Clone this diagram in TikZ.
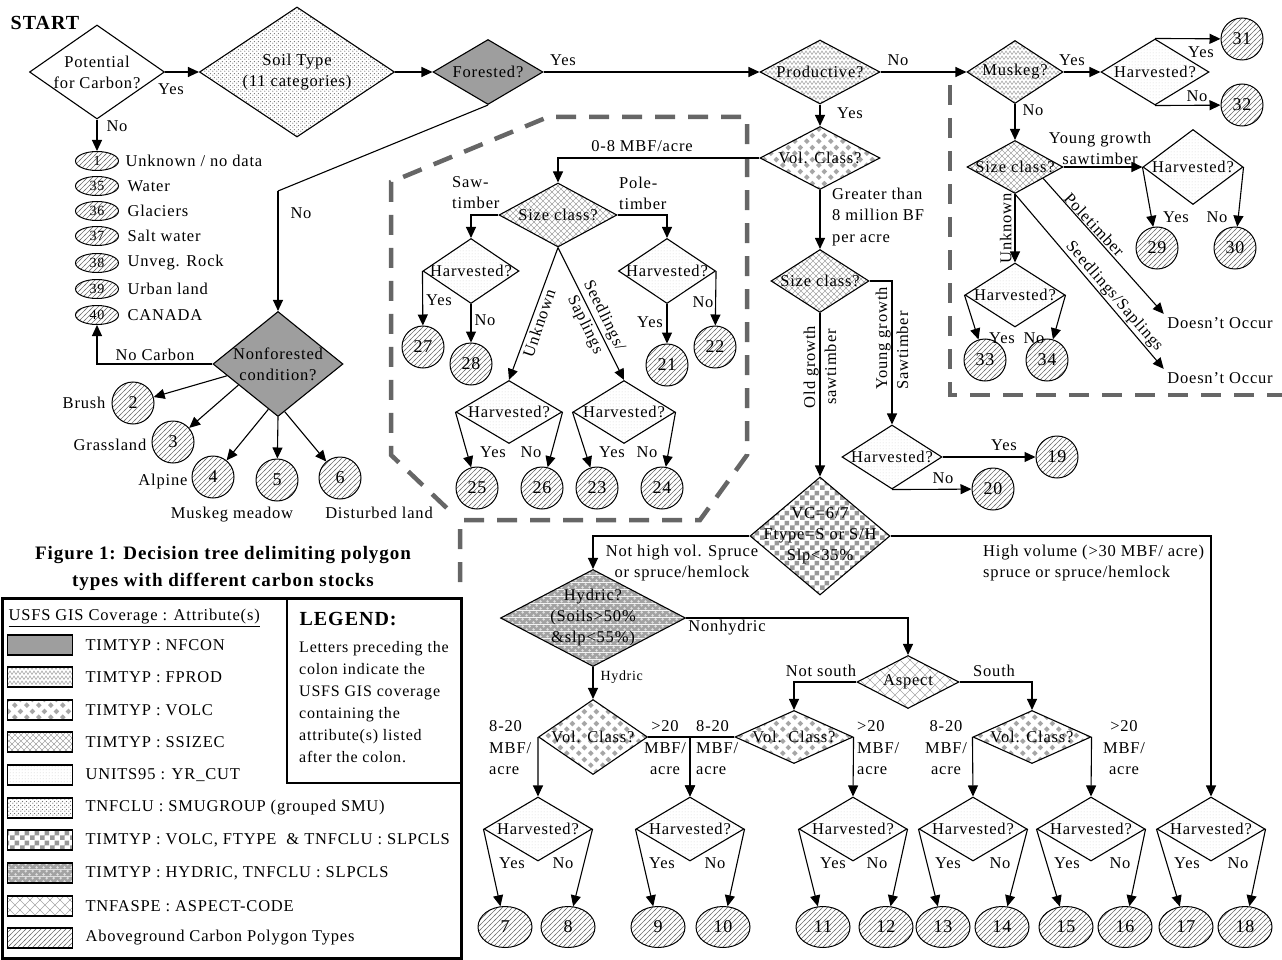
\documentclass[tikz,border=0pt]{standalone}
\usepackage{fontspec}
\setmainfont{Liberation Serif}[LetterSpace=5]
\usetikzlibrary{shapes.geometric,arrows.meta,patterns}

\colorlet{hyddark}{black!36}
\colorlet{hydlight}{black!12}

% fill patterns of the coverages
\pgfdeclarepatternformonly{zigzag}{\pgfqpoint{-1pt}{-1pt}}{\pgfqpoint{9pt}{6pt}}{\pgfqpoint{8pt}{5pt}}{%
  \pgfsetlinewidth{0.5pt}%
  \pgfpathmoveto{\pgfqpoint{0pt}{0.5pt}}%
  \pgfpathlineto{\pgfqpoint{2pt}{4pt}}%
  \pgfpathlineto{\pgfqpoint{4pt}{0.5pt}}%
  \pgfpathlineto{\pgfqpoint{6pt}{4pt}}%
  \pgfpathlineto{\pgfqpoint{8pt}{0.5pt}}%
  \pgfusepath{stroke}}
\pgfdeclarepatternformonly{volcdots}{\pgfpointorigin}{\pgfqpoint{12pt}{12pt}}{\pgfqpoint{12pt}{12pt}}{%
  \pgfpathmoveto{\pgfqpoint{3pt}{0pt}}\pgfpathlineto{\pgfqpoint{6pt}{3pt}}%
  \pgfpathlineto{\pgfqpoint{3pt}{6pt}}\pgfpathlineto{\pgfqpoint{0pt}{3pt}}\pgfpathclose
  \pgfpathmoveto{\pgfqpoint{9pt}{6pt}}\pgfpathlineto{\pgfqpoint{12pt}{9pt}}%
  \pgfpathlineto{\pgfqpoint{9pt}{12pt}}\pgfpathlineto{\pgfqpoint{6pt}{9pt}}\pgfpathclose
  \pgfusepath{fill}}
\pgfdeclarepatternformonly{xhatch}{\pgfqpoint{-1pt}{-1pt}}{\pgfqpoint{7pt}{7pt}}{\pgfqpoint{6pt}{6pt}}{%
  \pgfsetlinewidth{0.4pt}%
  \pgfpathmoveto{\pgfqpoint{-0.5pt}{-0.5pt}}\pgfpathlineto{\pgfqpoint{6.5pt}{6.5pt}}%
  \pgfpathmoveto{\pgfqpoint{-0.5pt}{6.5pt}}\pgfpathlineto{\pgfqpoint{6.5pt}{-0.5pt}}%
  \pgfusepath{stroke}}
\pgfdeclarepatternformonly{lattice}{\pgfqpoint{-1pt}{-1pt}}{\pgfqpoint{11pt}{11pt}}{\pgfqpoint{10pt}{10pt}}{%
  \pgfsetlinewidth{0.4pt}%
  \pgfpathmoveto{\pgfqpoint{-0.5pt}{-0.5pt}}\pgfpathlineto{\pgfqpoint{10.5pt}{10.5pt}}%
  \pgfpathmoveto{\pgfqpoint{-0.5pt}{10.5pt}}\pgfpathlineto{\pgfqpoint{10.5pt}{-0.5pt}}%
  \pgfusepath{stroke}}
\pgfdeclarepatternformonly{finedots}{\pgfpointorigin}{\pgfqpoint{3pt}{3pt}}{\pgfqpoint{3pt}{3pt}}{%
  \pgfpathcircle{\pgfqpoint{1.5pt}{1.5pt}}{0.45pt}%
  \pgfusepath{fill}}
\pgfdeclarepatternformonly{smudots}{\pgfpointorigin}{\pgfqpoint{4pt}{4pt}}{\pgfqpoint{4pt}{4pt}}{%
  \pgfpathcircle{\pgfqpoint{1pt}{1pt}}{0.75pt}%
  \pgfpathcircle{\pgfqpoint{3pt}{3pt}}{0.75pt}%
  \pgfusepath{fill}}
\pgfdeclarepatternformonly{checker}{\pgfpointorigin}{\pgfqpoint{10pt}{10pt}}{\pgfqpoint{10pt}{10pt}}{%
  \pgfpathrectangle{\pgfpointorigin}{\pgfqpoint{5pt}{5pt}}%
  \pgfpathrectangle{\pgfqpoint{5pt}{5pt}}{\pgfqpoint{5pt}{5pt}}%
  \pgfusepath{fill}}
\pgfdeclarepatterninherentlycolored{hydricdots}{\pgfpointorigin}{\pgfqpoint{7pt}{7pt}}{\pgfqpoint{7pt}{7pt}}{%
  \pgfsetfillcolor{hyddark}%
  \pgfpathrectangle{\pgfpointorigin}{\pgfqpoint{7pt}{7pt}}\pgfusepath{fill}%
  \pgfsetfillcolor{hydlight}%
  \pgfpathcircle{\pgfqpoint{1.75pt}{1.75pt}}{1.5pt}%
  \pgfpathcircle{\pgfqpoint{5.25pt}{5.25pt}}{1.5pt}%
  \pgfusepath{fill}}
\pgfdeclarepatternformonly{hatch}{\pgfqpoint{-1pt}{-1pt}}{\pgfqpoint{6pt}{6pt}}{\pgfqpoint{5pt}{5pt}}{%
  \pgfsetlinewidth{0.55pt}%
  \pgfpathmoveto{\pgfqpoint{-1pt}{-1pt}}\pgfpathlineto{\pgfqpoint{6pt}{6pt}}%
  \pgfusepath{stroke}}

\tikzset{
  dmd/.style={diamond, draw, line width=1.1pt, inner sep=0pt},
  dsz/.style 2 args={minimum width=#1, minimum height=#2},
  dtx/.style={label={[align=center, inner sep=0pt]center:#1}},
  nfcon/.style={fill=black!38},
  fprod/.style={pattern=zigzag, pattern color=black!40},
  volc/.style={pattern=volcdots, pattern color=black!35},
  ssizec/.style={pattern=xhatch, pattern color=black!35},
  yrcut/.style={pattern=finedots, pattern color=black!40},
  smu/.style={pattern=smudots, pattern color=black!55},
  ftype/.style={pattern=checker, pattern color=black!40},
  hydric/.style={pattern=hydricdots},
  aspect/.style={pattern=lattice, pattern color=black!35},
  cpoly/.style={pattern=hatch, pattern color=black!55},
  cnum/.style={circle, draw, line width=1pt, minimum size=42pt, inner sep=0pt, cpoly, font=\fontsize{18}{18}\selectfont},
  oval/.style={ellipse, draw, line width=1pt, minimum width=54pt, minimum height=41pt, inner sep=0pt, cpoly, font=\fontsize{18}{18}\selectfont},
  ovals/.style={ellipse, draw, line width=1pt, minimum width=43pt, minimum height=19pt, inner sep=0pt, cpoly, font=\fontsize{14}{14}\selectfont},
  arr/.style={line width=1.1pt, -{Triangle[length=11pt,width=10pt]}},
  ln/.style={line width=1.1pt},
  zone/.style={draw=black!60, line width=4.5pt, dash pattern=on 20pt off 13pt},
  three/.style={align=left, font=\fontsize{16.5}{21.5}\selectfont, inner sep=0pt},
  swatch/.style={draw, line width=1.5pt, minimum width=65pt, minimum height=20pt, inner sep=0pt},
}

\begin{document}
\begin{tikzpicture}[x=1pt,y=1pt,yscale=-1,xscale=1,font=\fontsize{16.5}{21}\selectfont]
\useasboundingbox (0,0) rectangle (1282,960);

%Dashed regions
\draw[zone] (460,582) -- (460,520) -- (700,520) -- (747,455) -- (747,117) -- (548,117) -- (391,182) -- (391,455) -- (452,513);
\draw[zone] (950,85) -- (950,395) -- (1282,395);

% Text Node
\node[font=\fontsize{20}{20}\selectfont\bfseries] (start) at (45,23) {START};

%Shape: Diamond (top row)
\node[dmd, dsz={135}{94}, dtx={Potential\\for Carbon?}] (pot) at (97,72) {};
\node[dmd, smu, dsz={195}{130}, dtx={Soil Type\\(11 categories)}] (soil) at (297,72) {};
\node[dmd, nfcon, dsz={110}{65}, dtx={Forested?}] (forest) at (488,72) {};
\node[dmd, fprod, dsz={120}{64}, dtx={Productive?}] (prod) at (820,72) {};
\node[dmd, fprod, dsz={96}{63}, dtx={Muskeg?}] (musk) at (1015,72) {};
\node[dmd, yrcut, dsz={108}{66}, dtx={Harvested?}] (hmusk) at (1155,72) {};
\node[cnum] (c31) at (1242,39) {31};
\node[cnum] (c32) at (1242,105) {32};

%Straight Lines
\draw[arr] (pot.east) -- (soil.west);
\draw[arr] (soil.east) -- (forest.west);
\draw[arr] (forest.east) -- (prod.west);
\draw[arr] (prod.east) -- (musk.west);
\draw[arr] (musk.east) -- (hmusk.west);
\draw[arr] (hmusk.north) -- (c31);
\draw[arr] (hmusk.south) -- (c32);

% Text Node
\node (ypot) at (171,89) {Yes};
\node (npot) at (117,126) {No};
\node (yfor) at (563,60) {Yes};
\node (nprod) at (898,60) {No};
\node (yprod) at (850,113) {Yes};
\node (ymusk) at (1072,60) {Yes};
\node (y31) at (1201,52) {Yes};
\node (n32) at (1197,96) {No};
\node (nmusk) at (1033,110) {No};

%Shape: Ellipse (no carbon list)
\node[ovals] (e1) at (97,161) {1};
\node[ovals] (e35) at (97,186) {35};
\node[ovals] (e36) at (97,211) {36};
\node[ovals] (e37) at (97,236) {37};
\node[ovals] (e38) at (97,263) {38};
\node[ovals] (e39) at (97,289) {39};
\node[ovals] (e40) at (97,315) {40};
\draw[arr] (pot.south) -- (e1);
\node[anchor=west] (le1) at (122,161) {Unknown / no data};
\node[anchor=west] (le35) at (124,186) {Water};
\node[anchor=west] (le36) at (124,211) {Glaciers};
\node[anchor=west] (le37) at (124,236) {Salt water};
\node[anchor=west] (le38) at (124,263) {Unveg. Rock};
\node[anchor=west] (le39) at (124,289) {Urban land};
\node[anchor=west] (le40) at (124,315) {CANADA};

%Shape: Diamond (nonforested)
\coordinate (nfbend) at (278,191);
\node[dmd, nfcon, dsz={130}{105}, dtx={Nonforested\\condition?}] (nonf) at (278,364) {};
\draw[ln] (forest.south) -- (nfbend);
\draw[arr] (nfbend) -- (nonf.north);
\node (nfor) at (301,213) {No};
\draw[arr] (nonf.west) -| (e40.south);
\node (nocarb) at (155,355) {No Carbon};
\node[cnum] (c2) at (133,403) {2};
\node[cnum] (c3) at (173,442) {3};
\node[cnum] (c4) at (213,477) {4};
\node[cnum] (c5) at (277,480) {5};
\node[cnum] (c6) at (340,478) {6};
\draw[arr] (nonf.193) -- (c2);
\draw[arr] (nonf.208) -- (c3);
\draw[arr] (nonf.258) -- (c4);
\draw[arr] (nonf.south) -- (c5);
\draw[arr] (nonf.278) -- (c6);
\node[anchor=east] (lbrush) at (109,403) {Brush};
\node (lgrass) at (110,445) {Grassland};
\node (lalp) at (163,482) {Alpine};
\node (lmm) at (232,515) {Muskeg meadow};
\node (ldist) at (379,513) {Disturbed land};

%Shape: Diamond (productive column)
\node[dmd, volc, dsz={120}{63}, dtx={Vol. Class?}] (vol1) at (820,158) {};
\node[dmd, ssizec, dsz={98}{63}, dtx={Size class?}] (size2) at (820,281) {};
\draw[arr] (prod.south) -- (vol1.north);
\draw[arr] (vol1.south) -- (size2.north);
\node[three, anchor=west] (lgt8) at (832,217) {Greater than\\8 million BF\\per acre};

%Shape: Diamond (0-8 MBF branch)
\node[dmd, ssizec, dsz={118}{64}, dtx={Size class?}] (size1) at (558,215) {};
\draw[arr] (vol1.west) -| (size1.north);
\node (l08) at (642,146) {0-8 MBF/acre};
\node[dmd, yrcut, dsz={96}{65}, dtx={Harvested?}] (hsaw) at (471,271) {};
\node[dmd, yrcut, dsz={97}{65}, dtx={Harvested?}] (hpole) at (667,271) {};
\draw[arr] (size1.west) -| (hsaw.north);
\draw[arr] (size1.east) -| (hpole.north);
\node[align=left, anchor=west, inner sep=0pt] (lsaw) at (452,193) {Saw-\\timber};
\node[align=left, anchor=west, inner sep=0pt] (lpole) at (619,193) {Pole-\\timber};
\node[cnum] (c27) at (423,347) {27};
\node[cnum] (c28) at (471,364) {28};
\node[cnum] (c21) at (667,365) {21};
\node[cnum] (c22) at (715,347) {22};
\draw[arr] (hsaw.west) -- (c27);
\draw[arr] (hsaw.south) -- (c28);
\draw[arr] (hpole.south) -- (c21);
\draw[arr] (hpole.east) -- (c22);
\node (y27) at (439,300) {Yes};
\node (n28) at (485,320) {No};
\node (y21) at (650,322) {Yes};
\node (n22) at (703,302) {No};

\node[dmd, yrcut, dsz={106}{63}, dtx={Harvested?}] (hunk) at (509,412) {};
\node[dmd, yrcut, dsz={102}{63}, dtx={Harvested?}] (hseed) at (624,412) {};
\draw[arr] (size1.south) -- (hunk.north) node[pos=0.55, rotate=71, anchor=north, inner sep=2pt] (lunk) {Unknown};
\draw[arr] (size1.south) -- (hseed.north) node[pos=0.55, rotate=-64, align=center, inner sep=0pt] (lseed) {Seedlings/\\Saplings};
\node[cnum] (c25) at (477,488) {25};
\node[cnum] (c26) at (542,488) {26};
\node[cnum] (c23) at (597,488) {23};
\node[cnum] (c24) at (662,488) {24};
\draw[arr] (hunk.west) -- (c25);
\draw[arr] (hunk.east) -- (c26);
\draw[arr] (hseed.west) -- (c23);
\draw[arr] (hseed.east) -- (c24);
\node (y25) at (493,452) {Yes};
\node (n26) at (531,452) {No};
\node (y23) at (612,452) {Yes};
\node (n24) at (647,452) {No};

%Shape: Diamond (muskeg branch)
\node[dmd, ssizec, dsz={96}{53}, dtx={Size class?}] (msize) at (1015,167) {};
\node[dmd, yrcut, dsz={100}{75}, dtx={Harvested?}] (mhyg) at (1193,167) {};
\node[dmd, yrcut, dsz={100}{64}, dtx={Harvested?}] (munk) at (1015,295) {};
\draw[arr] (musk.south) -- (msize.north);
\draw[arr] (msize.east) -- (mhyg.west);
\node[align=center] (lmyg) at (1100,148) {Young growth\\sawtimber};
\node[cnum] (c29) at (1157,248) {29};
\node[cnum] (c30) at (1235,248) {30};
\draw[arr] (mhyg.west) -- (c29);
\draw[arr] (mhyg.east) -- (c30);
\node (y29) at (1176,217) {Yes};
\node (n30) at (1217,217) {No};
\draw[arr] (msize.south) -- (munk.north) node[midway, rotate=90, anchor=south, inner sep=3pt] (lmunk) {Unknown};
\node[cnum] (c33) at (985,360) {33};
\node[cnum] (c34) at (1047,360) {34};
\draw[arr] (munk.west) -- (c33);
\draw[arr] (munk.east) -- (c34);
\node (y33) at (1002,338) {Yes};
\node (n34) at (1034,338) {No};
\node (doc1) at (1220,323) {Doesn't Occur};
\node (doc2) at (1220,378) {Doesn't Occur};
\draw[arr] (msize.-22) -- (doc1.north west) node[pos=0.38, rotate=-47, anchor=south, inner sep=1pt] (lmpole) {Poletimber};
\draw[arr] (msize.south) -- (doc2.north west) node[pos=0.62, rotate=-49, anchor=south, inner sep=1pt] (lmseed) {Seedlings/Saplings};

%Shape: Diamond (sawtimber branch)
\node[dmd, yrcut, dsz={100}{64}, dtx={Harvested?}] (hyg) at (892,457) {};
\draw[arr] (size2.east) -| (hyg.north) node[pos=0.7, rotate=90, align=left, inner sep=0pt] (lyg) {Young growth\\Sawtimber};
\node[cnum] (c19) at (1057,457) {19};
\node[cnum] (c20) at (993,489) {20};
\draw[arr] (hyg.east) -- (c19);
\draw[arr] (hyg.south) -- (c20);
\node (y19) at (1004,445) {Yes};
\node (n20) at (943,478) {No};

\node[dmd, ftype, dsz={140}{118}, dtx={VC=6/7\\Ftype=S or S/H\\Slp<35\%}] (vc) at (820,536) {};
\draw[arr] (size2.south) -- (vc.north) node[pos=0.33, rotate=90, align=center, inner sep=0pt] (lold) {Old growth\\sawtimber};

%Shape: Diamond (lower tree)
\node[dmd, hydric, dsz={185}{97}, dtx={Hydric?\\(Soils>50\%\\\&slp<55\%)}] (hyd) at (593,618) {};
\draw[arr] (vc.west) -| (hyd.north);
\node[align=center, inner sep=0pt] (lnhv) at (682,563) {Not high vol. Spruce\\or spruce/hemlock};
\node[dmd, aspect, dsz={102}{53}, dtx={Aspect}] (asp) at (908,682) {};
\draw[arr] (hyd.east) -| (asp.north);
\node (lnonh) at (727,628) {Nonhydric};
\node[dmd, volc, dsz={109}{75}, dtx={Vol. Class?}] (volh) at (593,737) {};
\draw[arr] (hyd.south) -- (volh.north);
\node[font=\fontsize{14}{14}\selectfont, anchor=west] (lhyd) at (597,677) {Hydric};
\node[dmd, volc, dsz={118}{53}, dtx={Vol. Class?}] (voln) at (794,737) {};
\node[dmd, volc, dsz={118}{53}, dtx={Vol. Class?}] (vols) at (1032,737) {};
\draw[arr] (asp.west) -| (voln.north);
\draw[arr] (asp.east) -| (vols.north);
\node (lns) at (821,671) {Not south};
\node (ls) at (994,671) {South};

\node[dmd, yrcut, dsz={108}{64}, dtx={Harvested?}] (h1) at (538,829) {};
\node[dmd, yrcut, dsz={108}{64}, dtx={Harvested?}] (h2) at (690,829) {};
\node[dmd, yrcut, dsz={108}{64}, dtx={Harvested?}] (h3) at (853,829) {};
\node[dmd, yrcut, dsz={108}{64}, dtx={Harvested?}] (h4) at (973,829) {};
\node[dmd, yrcut, dsz={108}{64}, dtx={Harvested?}] (h5) at (1091,829) {};
\node[dmd, yrcut, dsz={108}{64}, dtx={Harvested?}] (h6) at (1211,829) {};
\draw[arr] (volh.west) -- (h1.north);
\draw[arr] (volh.east) -| (h2.north);
\draw[arr] (voln.west) -| (h2.north);
\draw[arr] (voln.east) -- (h3.north);
\draw[arr] (vols.west) -- (h4.north);
\draw[arr] (vols.east) -- (h5.north);
\draw[arr] (vc.east) -| (h6.north);
\node[align=left, anchor=west, inner sep=0pt] (lhv) at (983,563) {High volume (>30 MBF/ acre)\\spruce or spruce/hemlock};

% Text Node (volume classes)
\node[three, anchor=west] (m1) at (489,748) {8-20\\MBF/\\acre};
\node[three, align=center] (m2) at (665,748) {>20\\MBF/\\acre};
\node[three, anchor=west] (m3) at (696,748) {8-20\\MBF/\\acre};
\node[three, anchor=west] (m4) at (857,748) {>20\\MBF/\\acre};
\node[three, align=center] (m5) at (946,748) {8-20\\MBF/\\acre};
\node[three, align=center] (m6) at (1124,748) {>20\\MBF/\\acre};

%Shape: Ellipse (bottom polygon types)
\node[oval] (e7) at (505,927) {7};
\node[oval] (e8) at (568,927) {8};
\node[oval] (e9) at (658,927) {9};
\node[oval] (e10) at (723,927) {10};
\node[oval] (e11) at (823,927) {11};
\node[oval] (e12) at (886,927) {12};
\node[oval] (e13) at (943,927) {13};
\node[oval] (e14) at (1002,927) {14};
\node[oval] (e15) at (1066,927) {15};
\node[oval] (e16) at (1125,927) {16};
\node[oval] (e17) at (1186,927) {17};
\node[oval] (e18) at (1245,927) {18};
\draw[arr] (h1.west) -- (e7);
\draw[arr] (h1.east) -- (e8);
\draw[arr] (h2.west) -- (e9);
\draw[arr] (h2.east) -- (e10);
\draw[arr] (h3.west) -- (e11);
\draw[arr] (h3.east) -- (e12);
\draw[arr] (h4.west) -- (e13);
\draw[arr] (h4.east) -- (e14);
\draw[arr] (h5.west) -- (e15);
\draw[arr] (h5.east) -- (e16);
\draw[arr] (h6.west) -- (e17);
\draw[arr] (h6.east) -- (e18);
\node (y7) at (512,863) {Yes};
\node (n8) at (563,863) {No};
\node (y9) at (662,863) {Yes};
\node (n10) at (715,863) {No};
\node (y11) at (833,863) {Yes};
\node (n12) at (877,863) {No};
\node (y13) at (948,863) {Yes};
\node (n14) at (1000,863) {No};
\node (y15) at (1067,863) {Yes};
\node (n16) at (1120,863) {No};
\node (y17) at (1187,863) {Yes};
\node (n18) at (1238,863) {No};

% Text Node (caption)
\node[align=center, font=\fontsize{19}{27}\selectfont\bfseries] (title) at (223,568) {Figure 1: Decision tree delimiting polygon\\types with different carbon stocks};

%Shape: Rectangle (legend)
\draw[line width=3pt] (2,598) rectangle (461,958);
\draw[line width=2pt] (287,598) -- (287,783) -- (461,783);
\node[anchor=west] (lghead) at (5,618) {\underline{USFS GIS Coverage : Attribute(s)}};
\node[swatch, nfcon] (s1) at (40,645) {};
\node[swatch, fprod] (s2) at (40,677) {};
\node[swatch, volc] (s3) at (40,710) {};
\node[swatch, ssizec] (s4) at (40,742) {};
\node[swatch, yrcut] (s5) at (40,775) {};
\node[swatch, smu] (s6) at (40,808) {};
\node[swatch, ftype] (s7) at (40,840) {};
\node[swatch, hydric] (s8) at (40,873) {};
\node[swatch, aspect] (s9) at (40,906) {};
\node[swatch, cpoly] (s10) at (40,938) {};
\node[anchor=west] (ls1) at (82,645) {TIMTYP : NFCON};
\node[anchor=west] (ls2) at (82,677) {TIMTYP : FPROD};
\node[anchor=west] (ls3) at (82,710) {TIMTYP : VOLC};
\node[anchor=west] (ls4) at (82,742) {TIMTYP : SSIZEC};
\node[anchor=west] (ls5) at (82,775) {UNITS95 : YR\_CUT};
\node[anchor=west] (ls6) at (82,808) {TNFCLU : SMUGROUP (grouped SMU)};
\node[anchor=west] (ls7) at (82,840) {TIMTYP : VOLC, FTYPE \ \& TNFCLU : SLPCLS};
\node[anchor=west] (ls8) at (82,873) {TIMTYP : HYDRIC, TNFCLU : SLPCLS};
\node[anchor=west] (ls9) at (82,906) {TNFASPE : ASPECT-CODE};
\node[anchor=west] (ls10) at (82,938) {Aboveground Carbon Polygon Types};
\node[anchor=west, font=\fontsize{20}{20}\selectfont\bfseries] (lgd) at (296,619) {LEGEND:};
\node[align=left, anchor=north west, inner sep=0pt, font=\fontsize{16}{22}\selectfont] (lgtext) at (299,641) {Letters preceding the\\colon indicate the\\USFS GIS coverage\\containing the\\attribute(s) listed\\after the colon.};

\end{tikzpicture}
\end{document}
